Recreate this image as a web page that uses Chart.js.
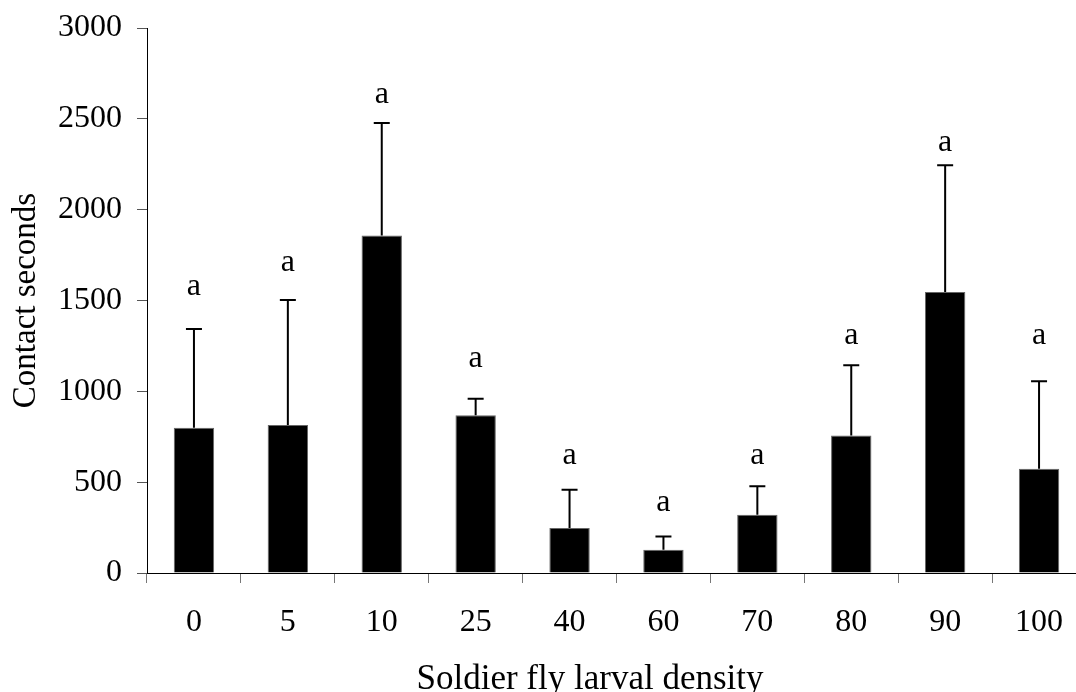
<!DOCTYPE html>
<html lang="en">
<head>
    <meta charset="UTF-8">
    <title>Contact seconds vs soldier fly larval density</title>
    <script src="https://cdn.jsdelivr.net/npm/chart.js"></script>
    <style>
        html, body { margin: 0; padding: 0; background: #fff; overflow: hidden; }
        #wrap { position: relative; width: 1076px; height: 692px; overflow: hidden; }
        #myChart { position: absolute; left: 0; top: 0; }
        #xTitle {
            position: absolute; left: 590px; top: 657px; transform: translateX(-50%);
            font-family: "Liberation Serif", "Times New Roman", serif; font-size: 35px;
            line-height: 42px; white-space: nowrap; color: #000;
        }
    </style>
</head>
<body>
    <div id="wrap">
        <canvas id="myChart" width="1086" height="692"></canvas>
        <div id="xTitle">Soldier fly larval density</div>
    </div>

    <script>
        // larval density groups
        const densities = ["0", "5", "10", "25", "40", "60", "70", "80", "90", "100"];
        // mean contact seconds
        const means = [800, 815, 1858, 868, 248, 128, 321, 757, 1547, 574];
        // upper error (SE)
        const errors = [543, 688, 619, 91, 210, 73, 156, 386, 697, 481];
        // significance letters and the value they sit at
        const letters = ["a", "a", "a", "a", "a", "a", "a", "a", "a", "a"];
        const letterAt = [1570, 1700, 2625, 1175, 640, 380, 640, 1300, 2360, 1300];

        const serif = "'Liberation Serif', 'Times New Roman', serif";

        // draws the upper error bars and the letters above them
        const errorBarPlugin = {
            id: "errorBars",
            afterDatasetsDraw(chart) {
                const ctx = chart.ctx;
                const y = chart.scales.y;
                const meta = chart.getDatasetMeta(0);
                ctx.save();
                ctx.strokeStyle = "#000";
                ctx.lineWidth = 2;
                meta.data.forEach((bar, i) => {
                    const x = bar.x;
                    const yTop = y.getPixelForValue(means[i] + errors[i]);
                    ctx.beginPath();
                    ctx.moveTo(x, y.getPixelForValue(means[i]));
                    ctx.lineTo(x, yTop);
                    ctx.moveTo(x - 8, yTop);
                    ctx.lineTo(x + 8, yTop);
                    ctx.stroke();

                    ctx.fillStyle = "#000";
                    ctx.font = "32px " + serif;
                    ctx.textAlign = "center";
                    ctx.textBaseline = "alphabetic";
                    ctx.fillText(letters[i], x, y.getPixelForValue(letterAt[i]) + 7);
                });
                ctx.restore();
            }
        };

        const chart = new Chart(document.getElementById("myChart"), {
            type: "bar",
            data: {
                labels: densities,
                datasets: [{
                    data: means,
                    backgroundColor: "#000",
                    borderColor: "#666",
                    borderWidth: 1,
                    categoryPercentage: 1,
                    barPercentage: 0.43
                }]
            },
            options: {
                responsive: false,
                animation: false,
                layout: { padding: { top: 28, right: 0, bottom: 0, left: 0 } },
                plugins: {
                    legend: { display: false },
                    tooltip: { enabled: false }
                },
                scales: {
                    x: {
                        grid: {
                            display: true,
                            drawOnChartArea: false,
                            drawTicks: true,
                            tickLength: 10,
                            color: "#777"
                        },
                        border: { color: "#000", width: 1 },
                        ticks: {
                            color: "#000",
                            padding: 20,
                            font: { family: serif, size: 32 }
                        },
                        afterFit(scale) {
                            scale.height = 119;
                            scale.paddingLeft = 0;
                            scale.paddingRight = 0;
                        }
                    },
                    y: {
                        min: 0,
                        max: 3000,
                        ticks: {
                            stepSize: 500,
                            color: "#000",
                            padding: 15,
                            font: { family: serif, size: 32 },
                            callback: value => String(value)
                        },
                        grid: {
                            display: true,
                            drawOnChartArea: false,
                            drawTicks: true,
                            tickLength: 10,
                            color: "#555"
                        },
                        border: { color: "#000", width: 1 },
                        title: {
                            display: true,
                            text: "Contact seconds",
                            color: "#000",
                            padding: { top: 7, bottom: 0 },
                            font: { family: serif, size: 33 }
                        },
                        afterFit(scale) {
                            scale.width = 147;
                            scale.paddingTop = 0;
                            scale.paddingBottom = 0;
                        }
                    }
                }
            },
            plugins: [errorBarPlugin]
        });
    </script>
</body>
</html>
